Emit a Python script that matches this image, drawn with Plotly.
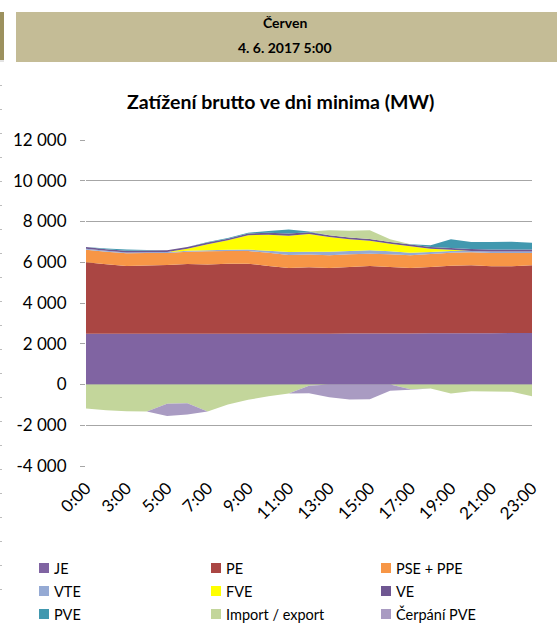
import plotly.graph_objects as go

# Hodinové kategorie (popisek jen u každé druhé)
hours = ["0:00", "2:00", "3:00", "4:00", "5:00", "6:00", "7:00", "8:00", "9:00",
         "10:00", "11:00", "12:00", "13:00", "14:00", "15:00", "16:00", "17:00",
         "18:00", "19:00", "20:00", "21:00", "22:00", "23:00"]

# Zatížení po zdrojích [MW]
je = [2490, 2490, 2490, 2490, 2490, 2490, 2490, 2490, 2490, 2490, 2490, 2495,
      2495, 2500, 2500, 2505, 2505, 2510, 2515, 2520, 2520, 2525, 2530]
pe = [3505, 3410, 3325, 3350, 3374, 3423, 3400, 3432, 3440, 3325, 3226, 3265,
      3221, 3266, 3315, 3261, 3211, 3256, 3316, 3328, 3279, 3274, 3318]
pse_ppe = [622, 620, 622, 614, 590, 606, 645, 630, 622, 655, 640, 620,
           623, 622, 606, 622, 623, 639, 639, 638, 655, 655, 606]
vte = [45, 40, 40, 40, 45, 50, 50, 60, 70, 100, 150, 139,
       180, 164, 164, 147, 131, 95, 80, 70, 70, 70, 70]
fve = [0, 0, 0, 0, 10, 98, 295, 464, 700, 785, 800, 868,
       721, 573, 475, 377, 311, 167, 60, 0, 0, 0, 0]
ve = [88, 80, 85, 85, 85, 80, 90, 82, 90, 90, 100, 82,
      82, 85, 85, 85, 85, 85, 90, 100, 100, 100, 100]
pve = [0, 40, 60, 20, 0, 0, 20, 32, 40, 90, 196, 40,
       0, 0, 0, 0, 20, 80, 425, 338, 370, 386, 337]
import_export = [-1180, -1262, -1310, -1326, -950, -917, -1326, -983, -752, -573, -442, -60,
                 250, 340, 423, 130, -230, -197, -442, -328, -344, -360, -573]
cerpani_pve = [0, 0, 0, 0, -590, -557, 0, 0, 0, 0, 0, -370,
               -620, -737, -720, -311, -30, 0, 0, 0, 0, 0, 0]

names = ["JE", "PE", "PSE + PPE", "VTE", "FVE", "VE", "PVE", "Import / export", "Čerpání PVE"]
series = [je, pe, pse_ppe, vte, fve, ve, pve, import_export, cerpani_pve]
colors = ["#8064A2", "#AA4643", "#F79646", "#95AAD4", "#FFFF00", "#6F5792",
          "#4198AF", "#C3D69B", "#A99BC2"]

y_ticks = [-4000, -2000, 0, 2000, 4000, 6000, 8000, 10000, 12000]


def fmt(v):
    s = f"{abs(v):,}".replace(",", " ")
    return ("-" if v < 0 else "") + s


W, H = 557, 623
L, R, T, B = 86, 25, 140, 157
PW, PH = W - L - R, H - T - B


def px(x):
    return (x - L) / PW


def py(y):
    return (H - B - y) / PH


FONT = "Lato"

fig = go.Figure()

# kladné a záporné části se skládají zvlášť
for group, part in (("kladne", lambda v: max(v, 0)), ("zaporne", lambda v: min(v, 0))):
    for name, vals, color in zip(names, series, colors):
        fig.add_trace(go.Scatter(
            x=hours, y=[part(v) for v in vals], name=name, stackgroup=group,
            mode="none", fillcolor=color, showlegend=False, hoverinfo="skip"))

shapes = []
annotations = []

# záhlaví
shapes.append(dict(type="rect", xref="paper", yref="paper", x0=px(16), x1=px(557),
                   y0=py(62), y1=py(12), fillcolor="#C4BC96", line=dict(width=0), layer="below"))
shapes.append(dict(type="rect", xref="paper", yref="paper", x0=px(0), x1=px(4),
                   y0=py(60), y1=py(12), fillcolor="#9C915E", line=dict(width=0), layer="below"))
shapes.append(dict(type="line", xref="paper", yref="paper", x0=px(0), x1=px(4),
                   y0=py(61), y1=py(61), line=dict(color="#C8C8C8", width=1)))
for yy in range(85, 610, 24):
    shapes.append(dict(type="line", xref="paper", yref="paper", x0=px(0), x1=px(2),
                       y0=py(yy + 0.5), y1=py(yy + 0.5), line=dict(color="#BDBDBD", width=1)))

annotations.append(dict(text="<b>Červen</b>", xref="paper", yref="paper", x=px(285), y=py(22),
                        showarrow=False, xanchor="center", yanchor="middle",
                        font=dict(family=FONT, size=14, color="#000000")))
annotations.append(dict(text="<b>4. 6. 2017 5:00</b>", xref="paper", yref="paper", x=px(285), y=py(47),
                        showarrow=False, xanchor="center", yanchor="middle",
                        font=dict(family=FONT, size=14, color="#000000")))
annotations.append(dict(text="<b>Zatížení brutto ve dni minima (MW)</b>", xref="paper", yref="paper",
                        x=px(280), y=py(101), showarrow=False, xanchor="center", yanchor="middle",
                        font=dict(family=FONT, size=19.5, color="#000000")))

# legenda ve třech sloupcích
col_x = [39, 211, 381]
row_y = [568, 591, 614]
for k, (name, color) in enumerate(zip(names, colors)):
    cx, cy = col_x[k % 3], row_y[k // 3]
    shapes.append(dict(type="rect", xref="paper", yref="paper", x0=px(cx), x1=px(cx + 10),
                       y0=py(cy + 5), y1=py(cy - 5), fillcolor=color, line=dict(width=0)))
    annotations.append(dict(text=name, xref="paper", yref="paper", x=px(cx + 13), y=py(cy),
                            showarrow=False, xanchor="left", yanchor="middle",
                            font=dict(family=FONT, size=14.5, color="#000000")))

fig.update_layout(
    width=W, height=H,
    margin=dict(l=L, r=R, t=T, b=B, pad=0),
    paper_bgcolor="white", plot_bgcolor="white",
    showlegend=False,
    shapes=shapes, annotations=annotations,
    font=dict(family=FONT, size=17, color="#000000"),
    xaxis=dict(type="category", range=[0, len(hours) - 1], tickvals=hours[::2],
               tickangle=-45, showgrid=False, showline=False, zeroline=False, ticks="",
               ticklabelstandoff=8,
               tickfont=dict(family=FONT, size=17, color="#000000")),
    yaxis=dict(range=[-4000, 12000], tickvals=y_ticks, ticktext=[fmt(v) for v in y_ticks],
               showgrid=True, gridcolor="#A6A6A6", gridwidth=1, zeroline=False, showline=False,
               ticks="outside", ticklen=5, tickcolor="#A6A6A6", ticklabelstandoff=10,
               tickfont=dict(family=FONT, size=17, color="#000000")),
)

fig.write_html("out.html")
